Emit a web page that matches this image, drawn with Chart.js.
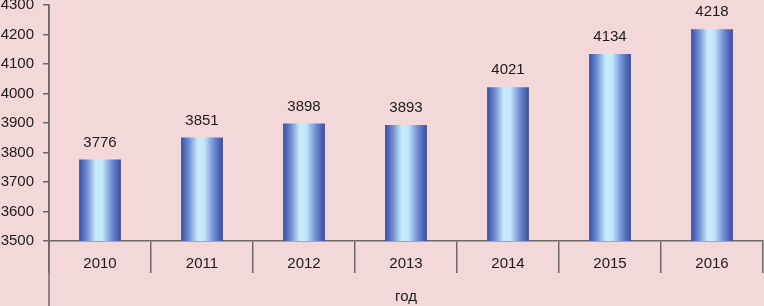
<!DOCTYPE html>
<html>
<head>
<meta charset="utf-8">
<script src="https://cdn.jsdelivr.net/npm/chart.js@4"></script>
<style>
  html, body { margin: 0; padding: 0; background: #F2D8D8; }
  #wrap { width: 764px; height: 306px; }
</style>
</head>
<body>
<div id="wrap"><canvas id="chart" width="764" height="306"></canvas></div>
<script>
const years = ['2010', '2011', '2012', '2013', '2014', '2015', '2016']
const population = [3776, 3851, 3898, 3893, 4021, 4134, 4218]
const yMin = 3500
const yMax = 4300
const yStep = 100

const FONT = "'Liberation Sans', Arial, sans-serif"
const AXIS = '#6f6666'
const BAR_PCT = 0.41

function barGradient(context) {
    const chart = context.chart
    const xs = chart.scales.x
    if (!chart.chartArea || !xs) return '#6f8fd0'
    const cx = xs.getPixelForValue(context.dataIndex)
    const w = (xs.width / years.length) * BAR_PCT
    const g = chart.ctx.createLinearGradient(cx - w / 2, 0, cx + w / 2, 0)
    g.addColorStop(0, '#3a4fa2')
    g.addColorStop(0.18, '#6c8ad0')
    g.addColorStop(0.4, '#c9ecfb')
    g.addColorStop(0.55, '#c4e8fa')
    g.addColorStop(0.78, '#6f8ed3')
    g.addColorStop(1, '#3a4c9e')
    return g
}

// value labels above bars
const valueLabels = {
    id: 'valueLabels',
    afterDatasetsDraw(chart) {
        const ctx = chart.ctx
        const meta = chart.getDatasetMeta(0)
        ctx.save()
        ctx.font = '15px ' + FONT
        ctx.fillStyle = '#1e1a1a'
        ctx.textAlign = 'center'
        ctx.textBaseline = 'middle'
        meta.data.forEach((bar, i) => {
            ctx.fillText(String(population[i]), bar.x, bar.y - 17)
        })
        ctx.restore()
    }
}

// y axis line continues down to the bottom edge
const axisExtend = {
    id: 'axisExtend',
    afterDraw(chart) {
        const ctx = chart.ctx
        const a = chart.chartArea
        ctx.save()
        ctx.strokeStyle = AXIS
        ctx.lineWidth = 1.5
        ctx.beginPath()
        ctx.moveTo(a.left, a.top)
        ctx.lineTo(a.left, chart.height)
        ctx.stroke()
        ctx.restore()
    }
}

new Chart(document.getElementById('chart'), {
    type: 'bar',
    data: {
        labels: years,
        datasets: [{
            label: 'год',
            data: population,
            backgroundColor: barGradient,
            borderWidth: 0,
            barPercentage: BAR_PCT,
            categoryPercentage: 1
        }]
    },
    options: {
        responsive: false,
        animation: false,
        layout: { padding: { top: 5, right: 1, left: 0, bottom: 0 } },
        plugins: {
            legend: { display: false },
            tooltip: { enabled: false }
        },
        scales: {
            x: {
                offset: true,
                grid: {
                    offset: true,
                    drawOnChartArea: false,
                    tickLength: 32,
                    color: AXIS,
                    lineWidth: 1.5
                },
                border: { color: AXIS, width: 1.5 },
                ticks: {
                    color: '#1e1a1a',
                    font: { family: FONT, size: 15 },
                    padding: -18
                },
                title: {
                    display: true,
                    text: 'год',
                    color: '#1e1a1a',
                    font: { family: FONT, size: 15 },
                    padding: { top: 14, bottom: 0 }
                },
                afterFit(scale) {
                    scale.height = 65
                    scale.paddingLeft = 0
                    scale.paddingRight = 0
                }
            },
            y: {
                min: yMin,
                max: yMax,
                grid: {
                    drawOnChartArea: false,
                    tickLength: 6,
                    color: AXIS,
                    lineWidth: 1.5
                },
                border: { color: AXIS, width: 1.5 },
                ticks: {
                    stepSize: yStep,
                    color: '#1e1a1a',
                    font: { family: FONT, size: 15 },
                    padding: 9,
                    callback: v => String(v)
                },
                afterFit(scale) {
                    scale.width = 49
                    scale.paddingTop = 0
                    scale.paddingBottom = 0
                }
            }
        }
    },
    plugins: [valueLabels, axisExtend]
})
</script>
</body>
</html>
